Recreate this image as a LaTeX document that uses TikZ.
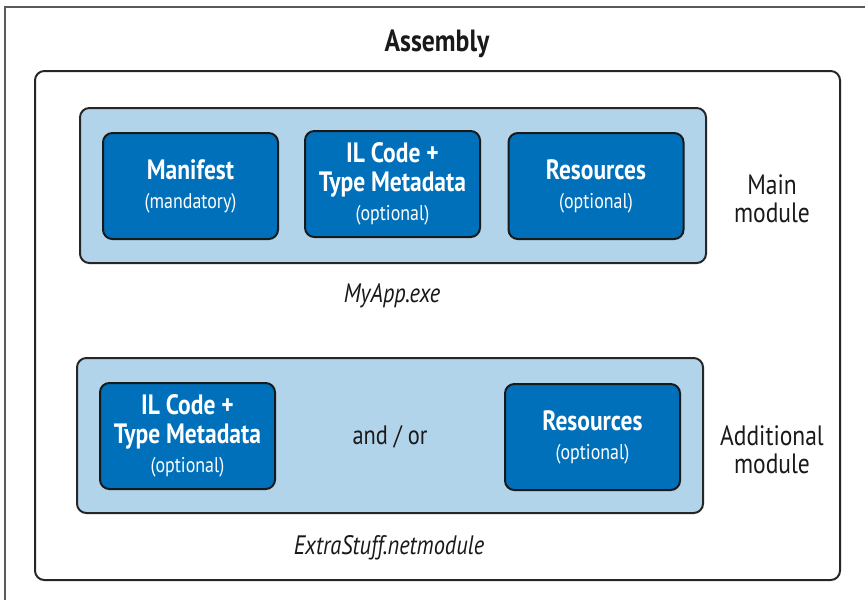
\documentclass[tikz,border=0pt]{standalone}
\usepackage{fontspec}
\setmainfont[FakeStretch=0.84]{PT Sans}
\definecolor{darkblue}{RGB}{0,112,186}
\definecolor{lightblue}{RGB}{178,212,234}
\definecolor{framegrey}{RGB}{90,90,90}
\newcommand{\subtxt}[1]{{\fontsize{16}{21.75}\selectfont #1}}
\begin{document}
\begin{tikzpicture}[x=0.75pt,y=-0.75pt,
  assemblybox/.style={draw=black!85, line width=1.5pt, rounded corners=7pt, fill=white,
    minimum width=603.75pt, minimum height=381.75pt, inner sep=0pt},
  modulebox/.style={draw=black!85, fill=lightblue, line width=1.5pt, rounded corners=7pt,
    minimum width=469.5pt, minimum height=116.25pt, inner sep=0pt},
  partbox/.style={draw=black!90, fill=darkblue, line width=1.5pt, rounded corners=7pt,
    minimum width=131.25pt, minimum height=79.5pt, text=white, align=center, inner sep=0pt,
    font=\fontsize{21}{21.75}\selectfont},
  label/.style={align=center, font=\fontsize{21}{21}\selectfont, text=black!90},
  filename/.style={font=\fontsize{20}{20}\selectfont\itshape, text=black!90}
]
\useasboundingbox (0,0) rectangle (865,600);
% outer frame (clipped at right and bottom)
\draw[framegrey, line width=0.8pt] (5,600) -- (5,7) -- (865,7);

\node[font=\fontsize{23}{23}\selectfont\bfseries, text=black!90] (title) at (437,44) {Assembly};
\node[assemblybox] (assembly) at (437.5,325.5) {};

\node[modulebox] (mainmod) at (393,185.5) {};
\node[partbox] (manifest) at (190.5,186) {\textbf{Manifest}\\\subtxt{(mandatory)}};
\node[partbox] (ilcode) at (392.5,184) {\textbf{IL Code +}\\\textbf{Type Metadata}\\\subtxt{(optional)}};
\node[partbox] (res) at (596,186) {\textbf{Resources}\\\subtxt{(optional)}};
\node[filename] (myapp) at (392,296) {MyApp.exe};
\node[label] (mainlbl) at (772,199) {Main\\module};

\node[modulebox] (extramod) at (390,435.5) {};
\node[partbox] (ilcode2) at (187.5,436) {\textbf{IL Code +}\\\textbf{Type Metadata}\\\subtxt{(optional)}};
\node[partbox] (res2) at (592.5,437) {\textbf{Resources}\\\subtxt{(optional)}};
\node[label, font=\fontsize{20}{20}\selectfont] (andor) at (390,437) {and / or};
\node[filename] (extra) at (389,548) {ExtraStuff.netmodule};
\node[label] (addlbl) at (772,450) {Additional\\module};
\end{tikzpicture}
\end{document}
